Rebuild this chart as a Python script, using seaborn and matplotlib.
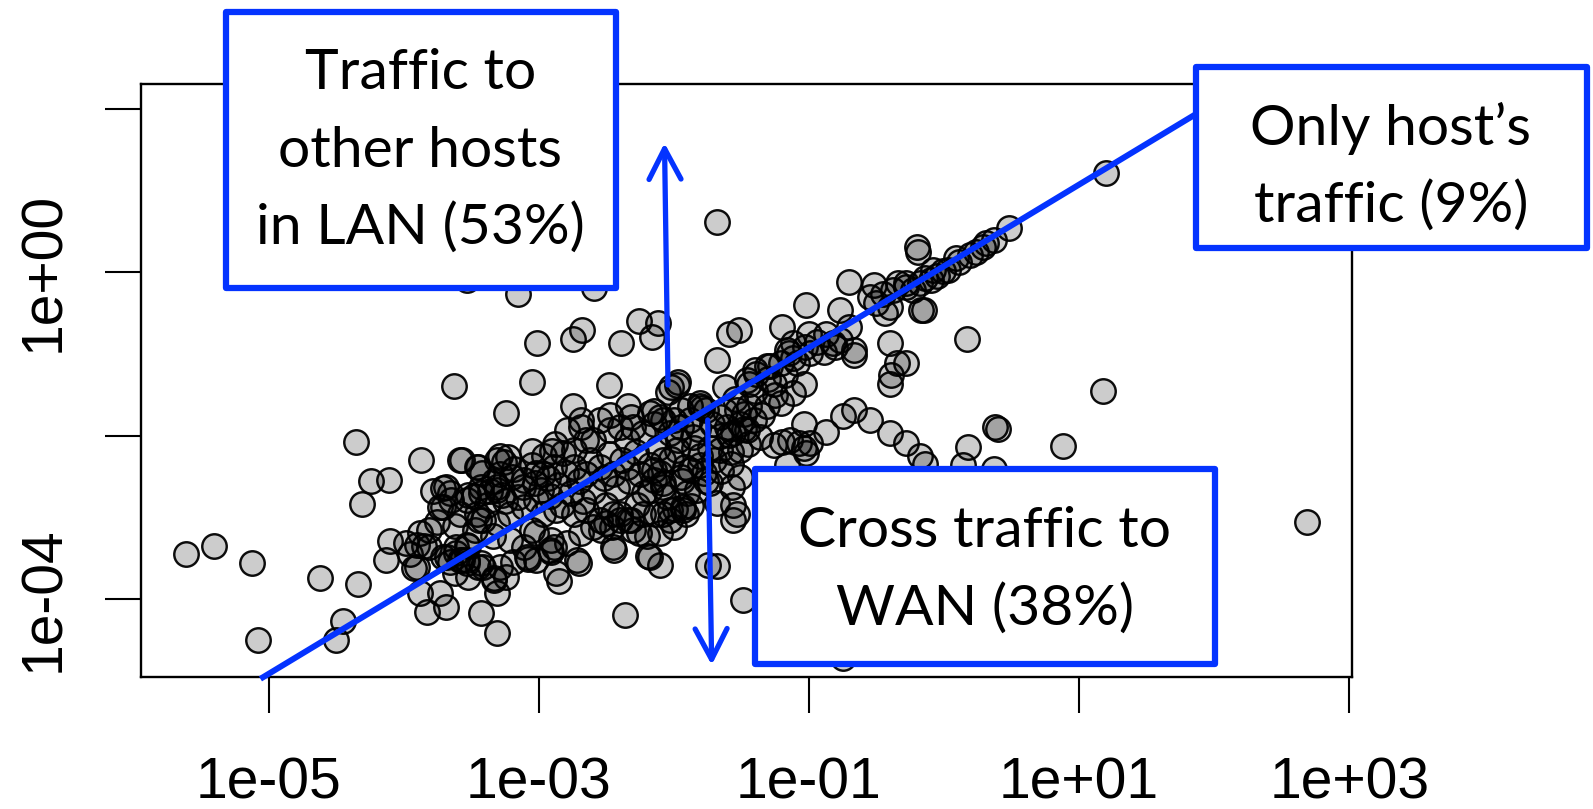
import numpy as np
import pandas as pd
import matplotlib
matplotlib.use("Agg")
import matplotlib.pyplot as plt
import seaborn as sns
from matplotlib.patches import Rectangle, FancyArrowPatch
from matplotlib.lines import Line2D

# ---------------- data (log10 of the plotted values) -------------
log_x = [
    # left / lower outliers
    -5.61, -5.40, -5.12, -5.08, -4.62, -4.34, -4.45, -4.50,
    -3.63, -4.35, -3.87, -3.57, -4.24, -4.11, -4.31, -3.71, -3.66, -3.71, -3.48,
    -3.81, -4.10, -3.90, -4.13, -3.92, -3.90, -3.66, -3.57, -3.53, -3.52,
    -3.88, -3.73, -3.69, -3.83, -3.43, -3.31, -2.36, -2.85, -2.70, -2.44, -2.19,
    -2.10, -1.75, -1.68, -2.91, -3.08, -3.19, -3.31, -3.33,
    # upper-left middle
    -3.05, -2.48, -3.24, -2.75, -2.34, -2.02, -1.79,
    -3.53, -3.15, -2.59, -3.01, -2.75, -2.68, -2.39, -2.26, -2.16, -2.12, -1.68, -1.68, -1.59, -1.97,
    -1.52, -1.20, -1.02, -1.00,
    -2.04, -1.98, -2.47, -2.15, -2.69,
    -3.29, -3.26, -3.05, -2.90, -3.45, -3.43, -3.31,
    # centre-right
    -0.19, -0.70, -0.52, -0.34, -0.28, -0.14, -0.08, -0.77, -0.55, -0.50, -0.15, -0.23,
    -0.40, -0.35, -0.28, -0.39, -0.40, -1.04, -1.09, -0.99,
    -0.87, -0.77, -0.67, -0.70, -0.89, -0.82, -1.16, -1.12, -1.29, -1.21, -1.26, -1.39, -1.44,
    -0.67, -0.55, -0.40, -0.28, -0.18, -0.14,
    -1.04, -0.87, -1.14, -1.07, -0.99, -1.02, -1.26, -1.16, -1.04, -1.20, -0.75,
    -1.12, -1.21, -1.31, -1.44, -1.51, -1.41, -1.36, -1.46, -1.53,
    -1.66, -1.61, -1.76, -1.81, -1.88, -1.95, -2.00, -2.10, -2.18,
    -1.56, -1.51, -1.58, -1.51,
    -1.66, -1.81, -1.88, -1.73, -1.83,
    -1.98, -2.08, -2.15, -1.95, -2.08, -2.18,
    -1.93, -2.08, -2.03, -1.68, -1.53, -1.56,
    -1.49, -0.75, -1.56,
    -0.67, -0.81, -0.94, -1.03, -1.15, -1.31, -1.40, -1.46, -1.62,
    # far right
    1.20, 0.48, 0.37, 0.29, 0.24, 0.19, 0.11, -0.01, -0.05, -0.10, -0.18, -0.28, -0.38, -0.45,
    -0.20, -0.17, -0.40, -0.44, 0.17, 1.18, 0.38, 0.40, 0.18, 0.88, 0.14, 0.37, 2.69,
    0.31, 0.09, 0.03,
    # dense band
    -3.46, -3.52, -3.43, -3.36, -3.27, -3.31,
    -3.20, -3.11, -3.03, -2.97, -2.89,
    -2.82, -2.74, -2.79, -2.69, -2.65,
    -2.55, -2.47, -2.40, -2.32, -2.30, -2.23, -2.15, -2.08, -2.03, -1.95, -1.88, -1.86, -1.81,
    -2.74, -2.65, -2.55, -2.45, -2.35, -2.25, -2.15, -2.08,
    -2.97, -2.87, -2.74, -2.65, -2.55, -2.45, -2.32, -2.23, -2.13, -2.03, -1.93,
    -3.53, -3.46, -3.41, -3.31, -3.21, -3.11, -3.02, -2.92,
    -3.98, -3.88, -3.81, -3.71, -3.61, -3.53, -3.43,
    -3.34, -3.21, -3.11, -3.02, -2.92, -2.79, -2.69, -2.60, -2.50, -2.40, -2.30, -2.20, -2.10, -2.00, -1.91,
    -2.45, -2.18, -2.89, -2.72, -2.87, -3.09, -3.02, -3.29, -3.41, -3.58, -3.68,
    -3.33, -3.24, -3.53, -3.62, -3.45,
    -2.54, -2.46, -2.34, -2.40, -2.26,
    -1.99, -1.87, -1.76, -1.65, -1.57,
    -1.94, -1.81, -1.73, -1.59, -1.48,
    -3.31, -3.23, -3.29, -3.58, -3.69, -3.78, -3.65, -3.73,
    -3.44, -3.47, -3.52, -3.61,
    -3.05, -2.91,
    # dense core along the diagonal
    -3.18, -3.12, -3.05, -2.98, -2.93, -2.86, -2.80, -2.76, -2.70, -2.62, -2.60, -2.52,
    -2.48, -2.42, -2.38, -2.33, -2.28, -2.22, -2.18, -2.12, -2.10, -2.05, -2.02, -1.97,
    -1.92, -1.90, -1.85, -1.82, -1.78, -1.72, -1.70, -1.66, -1.62, -1.58, -1.55, -1.48,
    -1.45, -1.40, -1.35, -1.30, -1.25, -1.18, -1.12, -2.88, -2.60, -2.35, -2.67, -2.83,
    -2.50, -2.27, -3.02, -3.15, -3.25, -3.38, -3.42, -3.58, -3.62, -3.75, -3.85, -3.95,
    -3.33, -2.96,
]

log_y = [
    # left / lower outliers
    -3.44, -3.35, -3.55, -4.49, -3.74, -3.81, -4.26, -4.50,
    -1.39, -2.07, -2.30, -2.29, -2.55, -2.54, -2.83, -2.64, -2.70, -2.87, -2.74,
    -3.15, -3.29, -3.33, -3.52, -3.62, -3.60, -3.54, -3.52, -3.33, -3.72,
    -3.92, -3.92, -4.09, -4.15, -4.17, -4.41, -4.19, -3.78, -3.55, -3.40, -3.47,
    -3.58, -3.58, -3.59, -3.42, -3.50, -3.54, -3.92, -3.74,
    # upper-left middle
    -1.34, -1.38, -1.72, -1.64, -1.64, -1.40, -1.66,
    -0.09, -0.27, -0.19, -0.87, -0.81, -0.71, -0.87, -0.60, -0.79, -0.62, 0.62, -1.07, -0.75, -1.34,
    -0.71, -0.67, -0.40, -0.75,
    -1.46, -1.38, -1.75, -1.70, -1.81,
    -2.25, -2.32, -2.19, -2.19, -2.38, -2.70, -2.66,
    # centre-right
    0.25, -0.12, -0.16, -0.13, -0.13, -0.07, 0.03, -0.46, -0.30, -0.38, -0.46, -0.22,
    -0.87, -1.11, -1.11, -1.26, -1.36, -1.36, -1.11, -0.99,
    -0.75, -0.83, -0.95, -0.67, -0.97, -0.87, -0.95, -0.87, -1.15, -1.11, -1.36, -1.24, -1.36,
    -1.68, -1.81, -1.97, -2.09, -2.25, -2.34,
    -1.85, -1.95, -2.05, -2.09, -2.09, -2.21, -2.11, -2.36, -2.15, -2.08, -1.76,
    -1.48, -1.60, -1.64, -1.64, -1.85, -1.81, -2.01, -1.93, -1.68,
    -1.77, -1.89, -1.68, -1.60, -1.64, -1.68, -1.81, -1.77, -1.72,
    -1.97, -2.17, -2.34, -2.50,
    -2.17, -2.25, -2.42, -2.58, -2.66,
    -2.17, -2.30, -2.42, -2.50, -2.58, -2.66,
    -2.87, -2.95, -3.03, -2.82, -2.95, -3.03,
    -4.01, -4.72, -2.85,
    -1.01, -0.91, -0.85, -0.91, -0.99, -1.15, -1.19, -1.32, -1.40,
    # far right
    1.21, 0.54, 0.40, 0.31, 0.25, 0.21, 0.13, 0.01, -0.05, -0.09, -0.13, -0.18, -0.22, -0.26,
    0.31, -0.46, -0.42, -0.50, -0.82, -1.45, -1.89, -1.91, -2.13, -2.12, -2.36, -2.40, -3.05,
    0.36, 0.17, 0.03,
    # dense band
    -2.38, -2.72, -2.62, -2.68, -2.72, -2.62,
    -2.50, -2.54, -2.58, -2.46, -2.38,
    -2.21, -2.17, -1.93, -1.89, -2.05,
    -1.81, -1.93, -1.89, -1.77, -1.89, -1.97, -1.85, -1.81, -1.97, -1.89, -1.81, -2.01, -1.64,
    -2.38, -2.46, -2.38, -2.46, -2.38, -2.46, -2.54, -2.62,
    -2.95, -2.91, -2.95, -2.91, -3.03, -2.95, -3.03, -2.95, -2.95, -2.91, -2.91,
    -2.78, -2.95, -3.03, -3.07, -2.95, -2.87, -2.78, -2.74,
    -3.31, -3.19, -3.36, -3.48, -3.36, -3.52, -3.56,
    -3.23, -3.27, -3.36, -3.19, -3.40, -3.31, -3.19, -3.11, -3.07, -3.03, -3.15, -3.23, -3.19, -3.11, -2.95,
    -3.36, -3.48, -3.36, -3.52, -3.68, -3.48, -3.52, -3.60, -3.60, -3.52, -3.48,
    -3.76, -3.72, -3.56, -3.68, -3.60,
    -3.15, -3.11, -3.03, -2.95, -3.19,
    -2.90, -2.86, -2.55, -2.43, -2.63,
    -2.55, -2.35, -2.15, -1.99, -1.73,
    -2.30, -2.26, -2.46, -2.30, -2.63, -2.67, -2.79, -2.87,
    -3.03, -3.15, -3.35, -3.43,
    -3.15, -3.27,
    # dense core along the diagonal
    -2.40, -2.62, -2.35, -2.66, -2.52, -2.60, -2.45, -2.70, -2.55, -2.30, -2.68, -2.52,
    -2.22, -2.64, -2.30, -2.55, -2.20, -2.70, -2.36, -2.15, -2.45, -2.75, -2.28, -2.05,
    -2.38, -2.70, -2.15, -1.92, -2.45, -1.85, -2.30, -2.00, -1.70, -2.20, -1.55, -1.92,
    -2.10, -1.45, -1.75, -1.30, -1.50, -1.25, -1.05, -2.10, -2.05, -2.05, -2.80, -2.85,
    -2.85, -2.85, -2.45, -2.75, -2.80, -2.85, -2.45, -2.95, -3.10, -3.05, -3.35, -3.45,
    -2.55, -2.25,
]

x_ticks = [1e-05, 1e-03, 1e-01, 1e+01, 1e+03]
x_tick_labels = ["1e-05", "1e-03", "1e-01", "1e+01", "1e+03"]
y_ticks = [1e-04, 1e-02, 1e+00, 1e+02]
y_tick_labels = ["1e-04", "", "1e+00", ""]

# reference line (log10 end points) "only host's traffic"
diag_log_x = [-5.06, 1.86]
diag_log_y = [-4.97, 1.93]

box_lan = ["Traffic to", "other hosts", "in LAN (53%)"]
box_host = ["Only host\u2019s", "traffic (9%)"]
box_wan = ["Cross traffic to", "WAN (38%)"]

# ---------------- styling -------------
sns.set_style("white")
plt.rcParams["font.family"] = ["Liberation Sans", "DejaVu Sans"]

W, H = 1593, 809
fig = plt.figure(figsize=(W / 100, H / 100), dpi=100)
fig.patch.set_facecolor("white")

def fx(px):
    return px / W

def fy(py):
    return 1 - py / H

ax = fig.add_axes([fx(141), fy(676.6), (1351.5 - 141) / W, (676.6 - 84) / H])

df = pd.DataFrame({"x": 10.0 ** np.array(log_x), "y": 10.0 ** np.array(log_y)})
sns.scatterplot(data=df, x="x", y="y", ax=ax, s=310,
                facecolor=(0, 0, 0, 0.2), edgecolor=(0, 0, 0, 0.95),
                linewidth=1.75, legend=False, zorder=2)
coll = ax.collections[0]
coll.set_facecolor((0, 0, 0, 0.2))
coll.set_edgecolor((0, 0, 0, 0.95))

ax.set_xscale("log")
ax.set_yscale("log")
ax.set_xlim(10 ** -5.944, 10 ** 3.016)
ax.set_ylim(10 ** -4.943, 10 ** 2.302)
ax.set_xticks(x_ticks)
ax.set_xticklabels(x_tick_labels)
ax.set_yticks(y_ticks)
ax.set_yticklabels(y_tick_labels)
ax.minorticks_off()
ax.set_xlabel("")
ax.set_ylabel("")

ax.tick_params(axis="both", which="major", length=26, width=1.5,
               direction="out", color="black", labelsize=41, labelcolor="black",
               bottom=True, left=True, top=False, right=False)
ax.tick_params(axis="x", pad=31.5)
ax.tick_params(axis="y", pad=24)
for lab in ax.get_yticklabels():
    lab.set_rotation(90)
    lab.set_va("center")
for s in ax.spines.values():
    s.set_visible(True)
    s.set_linewidth(1.7)
    s.set_color("black")

BLUE = "#0433FF"

# diagonal line
ax.add_line(Line2D(10.0 ** np.array(diag_log_x), 10.0 ** np.array(diag_log_y),
                   color=BLUE, lw=4.3, clip_on=False, zorder=3, solid_capstyle="butt"))

# arrows
for (x0, y0, x1, y1) in [(668, 385, 664.5, 143), (707.7, 420, 711.7, 665)]:
    arr = FancyArrowPatch((fx(x0), fy(y0)), (fx(x1), fy(y1)), transform=fig.transFigure,
                          arrowstyle="->,head_length=22,head_width=11.5", mutation_scale=1,
                          color=BLUE, lw=3.8, shrinkA=0, shrinkB=0, zorder=5,
                          capstyle="round", joinstyle="round")
    fig.add_artist(arr)

# boxes
def add_box(left, top, right, bottom, lines, cx, baselines):
    rect = Rectangle((fx(left), fy(bottom)), (right - left) / W, (bottom - top) / H,
                     transform=fig.transFigure, facecolor="white", edgecolor=BLUE,
                     lw=4.5, joinstyle="round", zorder=6)
    fig.add_artist(rect)
    for txt, by in zip(lines, baselines):
        fig.text(fx(cx), fy(by), txt, ha="center", va="baseline", fontsize=41,
                 family=["Lato", "DejaVu Sans"], color="black", zorder=7)

add_box(225.5, 12, 615.5, 288, box_lan, 420.5, [89.4, 166.7, 244])
add_box(1196, 67, 1587, 248, box_host, 1391, [145, 222])
add_box(755, 468.5, 1214.5, 664, box_wan, 985, [546.7, 625])

fig.savefig("out.png", dpi=100)
